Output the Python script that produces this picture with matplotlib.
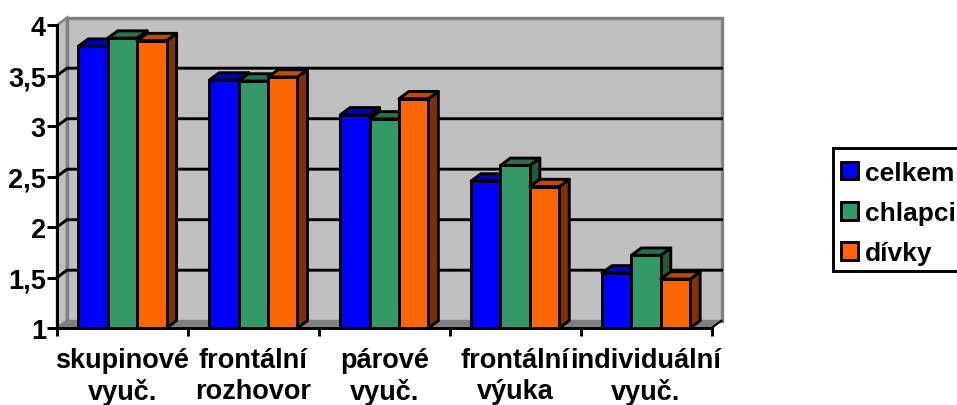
import matplotlib
matplotlib.use("Agg")
import matplotlib.pyplot as plt
from matplotlib.patches import Polygon, Patch, Rectangle

plt.rcParams['font.family'] = ['Liberation Sans', 'DejaVu Sans']

categories = ["skupinové\nvyuč.", "frontální\nrozhovor", "párové\nvyuč.", "frontální\nvýuka", "individuální\nvyuč."]
series_names = ["celkem", "chlapci", "dívky"]
celkem = [3.79, 3.455, 3.11, 2.455, 1.545]
chlapci = [3.87, 3.445, 3.07, 2.61, 1.72]
divky = [3.845, 3.485, 3.27, 2.40, 1.485]
y_ticks = [1, 1.5, 2, 2.5, 3, 3.5, 4]
y_tick_labels = ["1", "1,5", "2", "2,5", "3", "3,5", "4"]

front = ["#0000FF", "#339966", "#FF6600"]
top = ["#0000BF", "#267350", "#BF4D00"]
side = ["#00007F", "#1F5C3D", "#7F3300"]
W = 957; H = 406
L, R, B, T = 57, 711.5, 329, 26
LW = 2.1

fig = plt.figure(figsize=(W/100, H/100), dpi=100, facecolor="white")
ax = fig.add_axes([L/W, 1-B/H, (R-L)/W, (B-T)/H])
ax.set_xlim(0, 5); ax.set_ylim(1, 4)
ax.patch.set_visible(False)
DX = 10/((R-L)/5)
DY = 7.3/((B-T)/3)
bw = 29.4/((R-L)/5)
kw = dict(clip_on=False)

# walls and floor
ax.add_patch(Polygon([(0,1),(DX,1+DY),(DX,4+DY),(0,4)], fc="#C0C0C0", ec="#808080", lw=1.8, zorder=1, **kw))
ax.add_patch(Polygon([(DX,1+DY),(5+DX,1+DY),(5+DX,4+DY),(DX,4+DY)], fc="#C0C0C0", ec="#808080", lw=2.4, zorder=1, **kw))
ax.add_patch(Polygon([(0,1),(5,1),(5+DX,1+DY),(DX,1+DY)], fc="#808080", ec="#808080", lw=1, zorder=1, **kw))
# gridlines on the walls
for v in y_ticks[1:-1]:
    ax.plot([0, DX, 5+DX], [v, v+DY, v+DY], color="black", lw=LW, zorder=2, **kw)
ax.plot([5, 5+DX], [1, 1+DY], color="black", lw=1.4, zorder=2, **kw)

# bars
for s, vals in enumerate([celkem, chlapci, divky]):
    for i, v in enumerate(vals):
        x0 = i + 0.5 + (s-1.5)*bw
        x1 = x0 + bw
        ax.add_patch(Polygon([(x1,1),(x1+DX,1+DY),(x1+DX,v+DY),(x1,v)], fc=side[s], ec="black", lw=LW, zorder=3+s, joinstyle="round", **kw))
        ax.add_patch(Polygon([(x0,v),(x0+DX,v+DY),(x1+DX,v+DY),(x1,v)], fc=top[s], ec="black", lw=LW, zorder=3+s, joinstyle="round", **kw))
        ax.bar(x0, v-1, bw, bottom=1, align="edge", color=front[s], ec="black", lw=LW, zorder=3+s, clip_on=False)

for sp in ("top", "right"):
    ax.spines[sp].set_visible(False)
for sp in ("left", "bottom"):
    ax.spines[sp].set_linewidth(LW)
    ax.spines[sp].set_zorder(8)
ax.set_yticks(y_ticks, y_tick_labels)
ax.set_xticks(range(6), [""]*6)
ax.set_xticks([i+0.5 for i in range(5)], categories, minor=True)
ax.tick_params(axis="y", length=7, width=LW, pad=1, labelsize=19.5)
ax.tick_params(axis="x", which="major", length=6, width=LW)
ax.tick_params(axis="x", which="minor", length=0, pad=14, labelsize=19.5)
for t in ax.get_yticklabels():
    t.set_fontweight("bold")
for t in ax.get_xticklabels(minor=True):
    t.set_fontweight("bold"); t.set_linespacing(1.24); t.set_ha("center")

# legend frame runs past the right edge of the figure
fig.add_artist(Rectangle((832.5/W, 1-272/H), 140/W, 123/H, transform=fig.transFigure,
                         fc="white", ec="black", lw=LW, zorder=0))
handles = [Patch(fc=c, ec="black", lw=LW) for c in front]
leg = ax.legend(handles, series_names, loc="center left",
                bbox_to_anchor=(841/W, 1-214/H), bbox_transform=fig.transFigure,
                frameon=False, borderaxespad=0, borderpad=0,
                prop=dict(weight="bold", size=19), handlelength=0.65, handleheight=0.65,
                handletextpad=0.25, labelspacing=0.62)
leg.set_zorder(10)
fig.savefig("out.png", dpi=100)
